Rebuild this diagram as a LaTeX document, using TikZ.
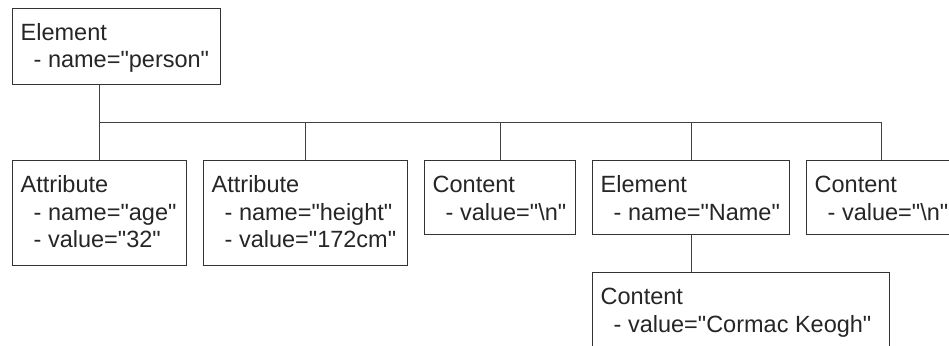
\documentclass[tikz,border=0pt]{standalone}
\usepackage{fontspec}
\newfontfamily\diagfont{Liberation Sans}
\begin{document}
\begin{tikzpicture}[x=1pt,y=1pt,
  box/.style={draw=black!80, line width=1pt, inner sep=0pt, anchor=north west},
  txt/.style={anchor=base west, inner sep=0pt, text=black!85, font=\diagfont\fontsize{23.5}{27.5}\selectfont},
  link/.style={draw=black!75, line width=0.9pt}]
\useasboundingbox (0,0) rectangle (949,-345);
\fill[white] (0,0) rectangle (949,-345);
% boxes
\node[box, minimum width=208pt, minimum height=76pt] (root) at (12,-8) {};
\node[box, minimum width=174pt, minimum height=105pt] (A1) at (12,-160) {};
\node[box, minimum width=204pt, minimum height=105pt] (A2) at (203,-160) {};
\node[box, minimum width=151pt, minimum height=74pt] (C1) at (424,-160) {};
\node[box, minimum width=197pt, minimum height=74pt] (E2) at (592,-160) {};
\node[box, minimum width=150pt, minimum height=74pt] (C2) at (806,-160) {};
\node[box, minimum width=297pt, minimum height=76pt] (B) at (592,-272) {};
% texts
\node[txt] (troot) at ([shift={(8.5,-32.5)}]root.north west)
  {\begin{tabular}[t]{@{}l@{}}Element\\\hspace{13pt}- name="person"\end{tabular}};
\node[txt] (tA1) at ([shift={(8.5,-32.5)}]A1.north west)
  {\begin{tabular}[t]{@{}l@{}}Attribute\\\hspace{13pt}- name="age"\\\hspace{13pt}- value="32"\end{tabular}};
\node[txt] (tA2) at ([shift={(8.5,-32.5)}]A2.north west)
  {\begin{tabular}[t]{@{}l@{}}Attribute\\\hspace{13pt}- name="height"\\\hspace{13pt}- value="172cm"\end{tabular}};
\node[txt] (tC1) at ([shift={(8.5,-32.5)}]C1.north west)
  {\begin{tabular}[t]{@{}l@{}}Content\\\hspace{13pt}- value="\textbackslash n"\end{tabular}};
\node[txt] (tE2) at ([shift={(8.5,-32.5)}]E2.north west)
  {\begin{tabular}[t]{@{}l@{}}Element\\\hspace{13pt}- name="Name"\end{tabular}};
\node[txt] (tC2) at ([shift={(8.5,-32.5)}]C2.north west)
  {\begin{tabular}[t]{@{}l@{}}Content\\\hspace{13pt}- value="\textbackslash n"\end{tabular}};
\node[txt] (tB) at ([shift={(8.5,-32.5)}]B.north west)
  {\begin{tabular}[t]{@{}l@{}}Content\\\hspace{13pt}- value="Cormac Keogh"\end{tabular}};
% connectors
\coordinate (bus) at (0,-122);
\draw[link] (root.south -| A1.north) -- (A1.north);
\draw[link] (A1.north |- bus) -- (C2.north |- bus);
\foreach \n in {A2,C1,E2,C2} \draw[link] (\n.north) -- (\n.north |- bus);
\draw[link] (E2.south) -- (E2.south |- B.north);
\end{tikzpicture}
\end{document}
